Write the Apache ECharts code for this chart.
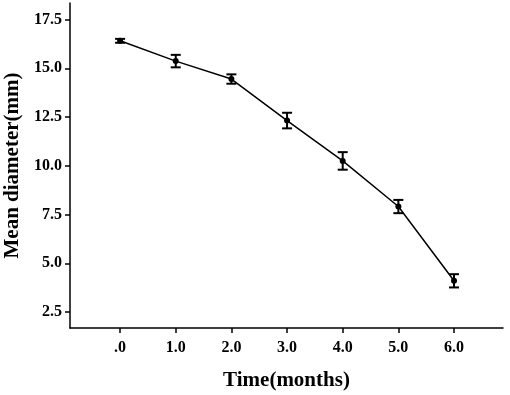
<!DOCTYPE html>
<html>
<head>
<meta charset="utf-8">
<script src="https://cdn.jsdelivr.net/npm/echarts@6/dist/echarts.min.js"></script>
<style>
  html, body { margin: 0; padding: 0; background: #fff; }
  #chart { width: 510px; height: 395px; }
</style>
</head>
<body>
<div id="chart"></div>
<script>
// months and mean diameter (mm) with error bar half-widths
var months = [0, 1, 2, 3, 4, 5, 6];
var meanDiameter = [16.41, 15.37, 14.45, 12.32, 10.25, 7.91, 4.10];
var errDiameter = [0.10, 0.32, 0.24, 0.40, 0.45, 0.34, 0.34];
var yTicks = [2.5, 5.0, 7.5, 10.0, 12.5, 15.0, 17.5];

var lineData = months.map(function (m, i) { return [m, meanDiameter[i]]; });
var errData = months.map(function (m, i) {
    return [m, meanDiameter[i] - errDiameter[i], meanDiameter[i] + errDiameter[i]];
});

var font = '"Liberation Serif", "DejaVu Serif", serif';

var chart = echarts.init(document.getElementById('chart'), null, { renderer: 'canvas' });

var option = {
    backgroundColor: '#fff',
    animation: false,
    grid: { left: 70, right: 7, top: 3, bottom: 67, containLabel: false, outerBoundsMode: 'none' },
    xAxis: {
        type: 'value',
        min: -0.9,
        max: 6.88,
        name: 'Time(months)',
        nameLocation: 'middle',
        nameGap: 42,
        nameTextStyle: { fontFamily: font, fontWeight: 'bold', fontSize: 21, color: '#000' },
        splitLine: { show: false },
        axisLine: { onZero: false, lineStyle: { color: '#000', width: 1.5 } },
        axisTick: { show: true, length: 5, customValues: months, lineStyle: { color: '#000', width: 1.5 } },
        axisLabel: {
            customValues: months,
            margin: 12,
            fontFamily: font, fontWeight: 'bold', fontSize: 16, color: '#000',
            formatter: function (v) { return v === 0 ? '.0' : v.toFixed(1); }
        }
    },
    yAxis: {
        type: 'value',
        min: 1.68,
        max: 18.35,
        name: 'Mean diameter(mm)',
        nameLocation: 'middle',
        nameGap: 46,
        nameTextStyle: { fontFamily: font, fontWeight: 'bold', fontSize: 21, color: '#000' },
        splitLine: { show: false },
        axisLine: { show: true, onZero: false, lineStyle: { color: '#000', width: 1.5 } },
        axisTick: { show: true, length: 5, customValues: yTicks, lineStyle: { color: '#000', width: 1.5 } },
        axisLabel: {
            customValues: yTicks,
            margin: 8,
            fontFamily: font, fontWeight: 'bold', fontSize: 16, color: '#000',
            formatter: function (v) { return v.toFixed(1); }
        }
    },
    series: [
        {
            type: 'line',
            data: lineData,
            symbol: 'circle',
            symbolSize: 6,
            itemStyle: { color: '#000' },
            lineStyle: { color: '#000', width: 1.5 }
        },
        {
            type: 'custom',
            data: errData,
            z: 3,
            renderItem: function (params, api) {
                var x = api.value(0);
                var lo = api.coord([x, api.value(1)]);
                var hi = api.coord([x, api.value(2)]);
                var w = 5;
                var st = { stroke: '#000', lineWidth: 2 };
                return {
                    type: 'group',
                    children: [
                        { type: 'line', shape: { x1: lo[0], y1: lo[1], x2: hi[0], y2: hi[1] }, style: st },
                        { type: 'line', shape: { x1: lo[0] - w, y1: lo[1], x2: lo[0] + w, y2: lo[1] }, style: st },
                        { type: 'line', shape: { x1: hi[0] - w, y1: hi[1], x2: hi[0] + w, y2: hi[1] }, style: st }
                    ]
                };
            }
        }
    ]
};

chart.setOption(option);
</script>
</body>
</html>
